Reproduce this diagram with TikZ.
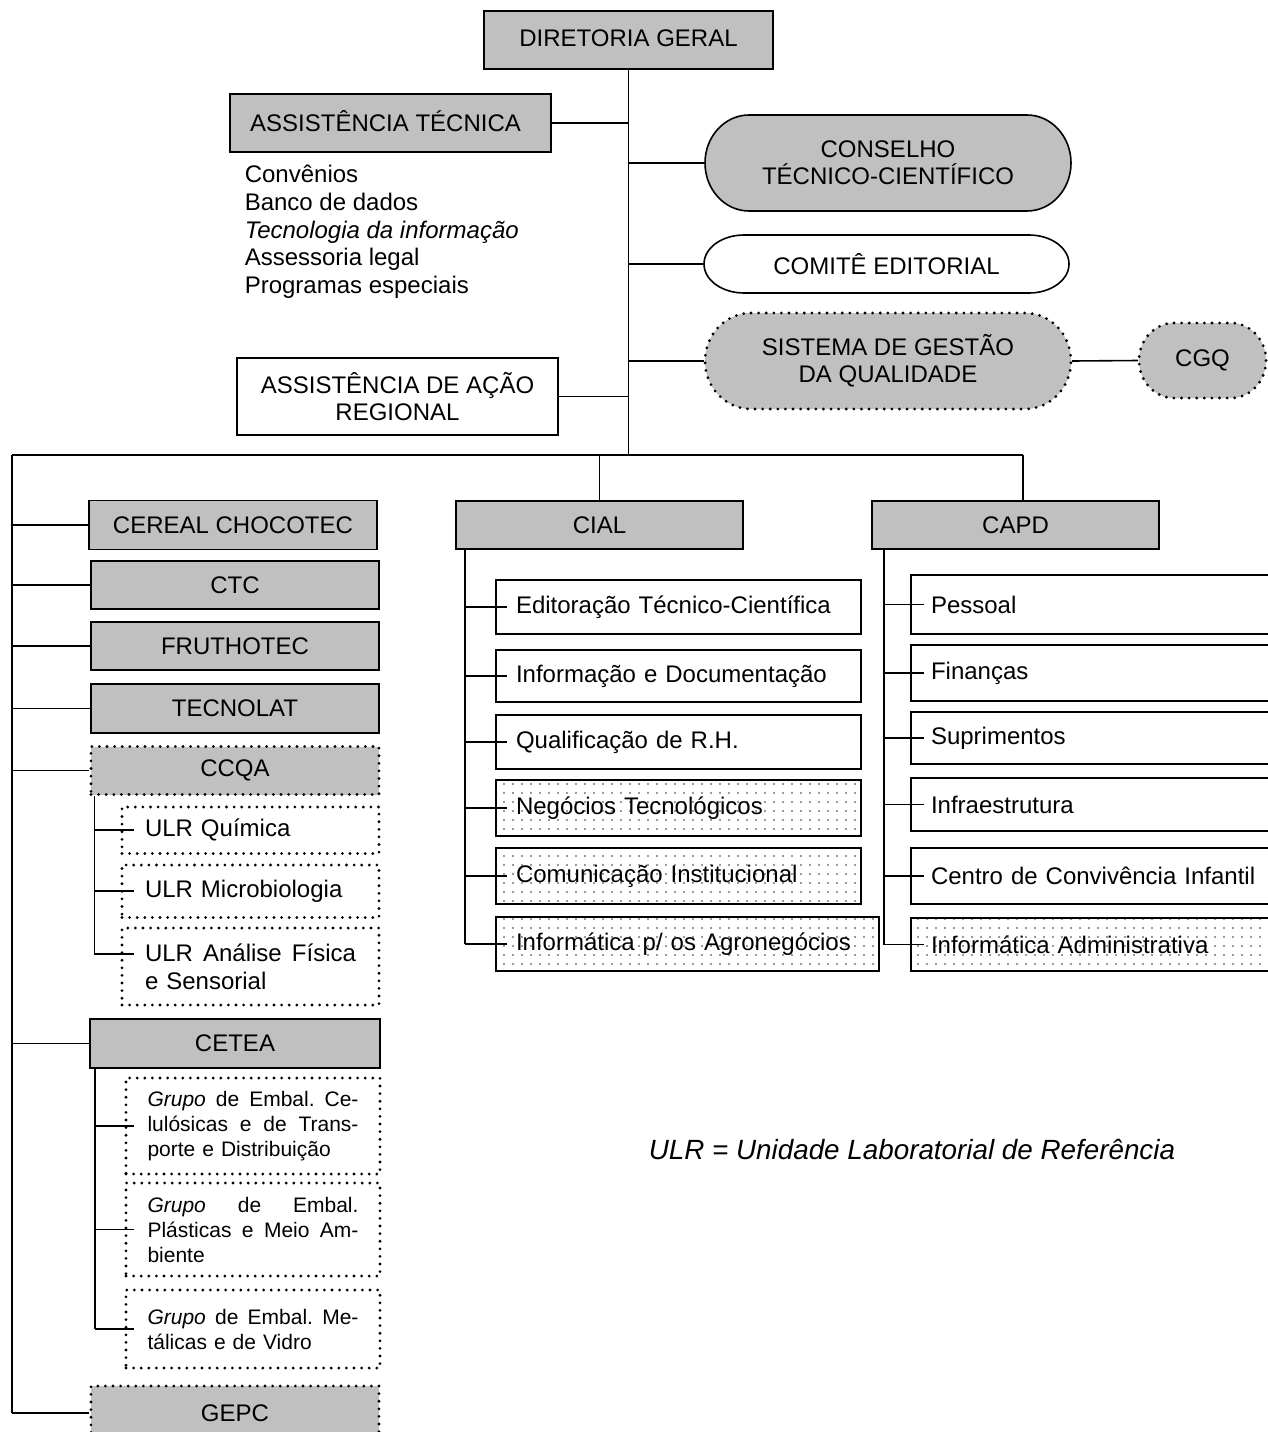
\documentclass[tikz,border=0pt]{standalone}
\usepackage{fontspec}
\setmainfont{Liberation Sans}
\usetikzlibrary{patterns.meta}
\definecolor{boxgray}{RGB}{192,192,192}
\pgfdeclarelayer{background}
\pgfsetlayers{background,main}
\newcommand\jsp{\hspace{0pt plus 1fil}}
\newcommand\jline[1]{\makebox[211pt][s]{#1}}
% pill shape: x1 y1 x2 y2 rx style
\newcommand\pillshape[6]{%
  \pgfmathsetmacro\pillXa{#1+#5}\pgfmathsetmacro\pillXb{#3-#5}%
  \pgfmathsetmacro\pillRy{(#4-#2)/2}\pgfmathsetmacro\pillYm{(#2+#4)/2}%
  \pgfmathsetmacro\pillKx{0.5523*#5}\pgfmathsetmacro\pillKy{0.5523*\pillRy}%
  \path[#6] (\pillXa,#2) -- (\pillXb,#2)
    .. controls ({\pillXb+\pillKx},#2) and (#3,{\pillYm-\pillKy}) .. (#3,\pillYm)
    .. controls (#3,{\pillYm+\pillKy}) and ({\pillXb+\pillKx},#4) .. (\pillXb,#4)
    -- (\pillXa,#4)
    .. controls ({\pillXa-\pillKx},#4) and (#1,{\pillYm+\pillKy}) .. (#1,\pillYm)
    .. controls (#1,{\pillYm-\pillKy}) and ({\pillXa-\pillKx},#2) .. (\pillXa,#2) -- cycle;}
\begin{document}
\begin{tikzpicture}[x=1pt,y=-1pt,line width=1.6pt]
\tikzset{
  box/.style={draw, line width=1.6pt, inner sep=0pt, font=\fontsize{24}{28}\selectfont, align=center},
  gbox/.style={box, fill=boxgray},
  sz/.style 2 args={minimum width=#1pt, minimum height=#2pt},
  dotline/.style={line width=3.1pt, dash pattern=on 0pt off 7.6pt, line cap=round},
  dotfill/.style={pattern={Dots[distance=9pt, radius=0.9pt]}, pattern color=black!80},
  cbox/.style={box, align=left, inner xsep=20pt, text width=325pt},
  pbox/.style={box, align=left, inner xsep=20pt, text width=339pt},
  ubox/.style={box, align=left, inner xsep=23pt, text width=211pt},
  grbox/.style={box, align=left, inner xsep=21.5pt, text width=211pt, font=\fontsize{21}{25}\selectfont},
  txt/.style={inner sep=0pt, align=center, font=\fontsize{24}{27}\selectfont},
  conn/.style={line width=1.6pt}
}
\useasboundingbox (0,0) rectangle (1268,1432);
\clip (0,0) rectangle (1268,1432);

% top
\node[gbox, sz={289}{58}] (dg) at (628.5,40) {\raisebox{4pt}{DIRETORIA GERAL}};
\node[gbox, sz={321}{58}] (at) at (390.5,123) {\raisebox{4pt}{ASSISTÊNCIA TÉCNICA\hspace*{10pt}}};
\node[inner sep=0pt, align=left, anchor=west, font=\fontsize{24}{27.7}\selectfont] (lst) at (244,232)
  {Convênios\\Banco de dados\\\textit{Tecnologia da informação}\\Assessoria legal\\Programas especiais};
\node[box, sz={321}{77}, font=\fontsize{24}{27}\selectfont] (ar) at (397.5,396.5) {ASSISTÊNCIA DE AÇÃO\\REGIONAL};

\node[txt, sz={366}{96}] (cons) at (888,163) {CONSELHO\\TÉCNICO-CIENTÍFICO};
\node[txt, sz={365}{58}] (com) at (886.5,264) {COMITÊ EDITORIAL};
\node[txt, sz={366}{96}] (sgq) at (888,361) {SISTEMA DE GESTÃO\\DA QUALIDADE};
\node[txt, sz={127}{75}] (cgq) at (1202.5,360.5) {CGQ};

\begin{pgfonlayer}{background}
\fill[white] (0,0) rectangle (1268,1432);
\pillshape{705}{115}{1071}{211}{44}{draw, fill=boxgray, line width=1.6pt}
\pillshape{704}{235}{1069}{293}{40}{draw, fill=white, line width=1.6pt}
\pillshape{705}{313}{1071}{409}{46}{draw, fill=boxgray, dotline}
\pillshape{1139}{323}{1266}{398}{35}{draw, fill=boxgray, dotline}
\end{pgfonlayer}

% bus
\coordinate (bl) at (12,455);
\coordinate (br) at (1023,455);

% left column
\node[gbox, sz={288}{49}] (cer) at (233,525) {CEREAL CHOCOTEC};
\node[gbox, sz={288}{48}] (ctc) at (235,585) {CTC};
\node[gbox, sz={288}{48}] (fru) at (235,646) {FRUTHOTEC};
\node[gbox, sz={288}{49}] (tec) at (235,708.5) {TECNOLAT};
\node[gbox, dotline, sz={288}{48}] (ccqa) at (235,770.5) {CCQA};
\node[ubox, dotline, minimum height=46.5pt] (ulrq) at (250.5,830.25) {ULR Química};
\node[ubox, dotline, minimum height=52.5pt] (ulrm) at (250.5,891.25) {ULR Microbiologia};
\node[ubox, dotline, minimum height=77pt] (ulra) at (250.5,966.5) {\jline{ULR\jsp Análise\jsp Física}\\e Sensorial};
\node[gbox, sz={290}{49}] (cetea) at (235,1043.5) {CETEA};
\node[grbox, dotline, minimum height=96pt] (g1) at (253,1126)
  {\jline{\textit{Grupo}\jsp de\jsp Embal.\jsp Ce-}\\\jline{lulósicas\jsp e\jsp de\jsp Trans-}\\porte e Distribuição};
\node[grbox, dotline, minimum height=93pt] (g2) at (253,1229.5)
  {\jline{\textit{Grupo}\jsp de\jsp Embal.}\\\jline{Plásticas\jsp e\jsp Meio\jsp Am-}\\biente};
\node[grbox, dotline, minimum height=78pt] (g3) at (253,1329)
  {\jline{\textit{Grupo}\jsp de\jsp Embal.\jsp Me-}\\tálicas e de Vidro};
\node[gbox, dotline, sz={288}{54}] (gepc) at (235,1413) {GEPC};

% CIAL column
\node[gbox, sz={287}{48}] (cial) at (599.5,525) {CIAL};
\node[cbox, minimum height=54pt] (ed) at (678.5,607) {Editoração Técnico-Científica};
\node[cbox, minimum height=52pt] (inf) at (678.5,676) {Informação e Documentação};
\node[cbox, minimum height=54pt] (qua) at (678.5,742) {Qualificação de R.H.};
\node[cbox, dotfill, minimum height=56pt] (neg) at (678.5,808) {Negócios Tecnológicos};
\node[cbox, dotfill, minimum height=56pt] (comu) at (678.5,876) {Comunicação Institucional};
\node[cbox, dotfill, text width=343pt, minimum height=54pt] (infa) at (687.5,944) {Informática p/ os Agronegócios};

% CAPD column
\node[gbox, sz={287}{48}] (capd) at (1015.5,525) {CAPD};
\node[pbox, minimum height=59pt] (pes) at (1100.5,604.5) {Pessoal};
\node[pbox, minimum height=56pt] (fin) at (1100.5,673) {Finanças};
\node[pbox, minimum height=52pt] (sup) at (1100.5,738) {Suprimentos};
\node[pbox, minimum height=53pt] (infr) at (1100.5,804.5) {Infraestrutura};
\node[pbox, minimum height=56pt] (cci) at (1100.5,876) {Centro de Convivência Infantil};
\node[pbox, dotfill, minimum height=53pt] (iadm) at (1100.5,944.5) {Informática Administrativa};

% legend
\node[inner sep=0pt, font=\fontsize{27.8}{31}\selectfont\itshape] (leg) at (912,1150) {ULR = Unidade Laboratorial de Referência};

% connectors: top
\draw[conn] (dg.south) -- (dg.south |- bl);
\draw[conn] (bl) -- (br);
\draw[conn] (at.east) -- (at.east -| dg.south);
\draw[conn] (ar.east) -- (ar.east -| dg.south);
\draw[conn] (cons.west -| dg.south) -- (cons.west);
\draw[conn] (com.west -| dg.south) -- (com.west);
\draw[conn] (sgq.west -| dg.south) -- (sgq.west);
\draw[conn] (sgq.east) -- (cgq.west);

% connectors: left column
\draw[conn] (bl) -- (bl |- gepc.west);
\foreach \n in {cer,ctc,fru,tec,ccqa,cetea,gepc} \draw[conn] (bl |- \n.west) -- (\n.west);
\coordinate (qt) at ([xshift=5pt]ccqa.south west);
\coordinate (ulraC) at ([yshift=12.5pt]ulra.west);
\draw[conn] (qt) -- (qt |- ulraC);
\draw[conn] (qt |- ulrq.west) -- ([xshift=14pt]ulrq.west);
\draw[conn] (qt |- ulrm.west) -- ([xshift=14pt]ulrm.west);
\draw[conn] (qt |- ulraC) -- ([xshift=14pt]ulraC);
\coordinate (et) at ([xshift=6pt]cetea.south west);
\draw[conn] (et) -- (et |- g3.west);
\foreach \n in {g1,g2,g3} \draw[conn] (et |- \n.west) -- ([xshift=10pt]\n.west);

% connectors: CIAL
\draw[conn] (cial.north |- bl) -- (cial.north);
\coordinate (cit) at ([xshift=10pt]cial.south west);
\draw[conn] (cit) -- (cit |- infa.west);
\foreach \n in {ed,inf,qua,neg,comu,infa} \draw[conn] (cit |- \n.west) -- ([xshift=12pt]\n.west);

% connectors: CAPD
\draw[conn] (br) -- (br |- capd.north);
\coordinate (cat) at ([xshift=13pt]capd.south west);
\draw[conn] (cat) -- (cat |- iadm.west);
\foreach \n in {pes,fin,sup,infr,cci,iadm} \draw[conn] (cat |- \n.west) -- ([xshift=14pt]\n.west);
\end{tikzpicture}
\end{document}
